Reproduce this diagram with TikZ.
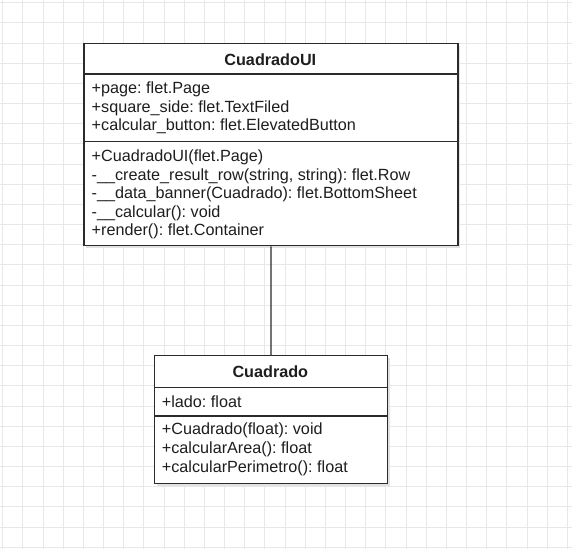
\documentclass[tikz,border=0pt]{standalone}
\usepackage{fontspec}
\setmainfont{Liberation Sans}
\frenchspacing
\begin{document}
\begin{tikzpicture}[x=1pt,y=-1pt,
  gridline/.style={draw=gridgray,line width=1pt},
  umlbox/.style={draw=boxline,line width=1.3pt,fill=white,inner sep=0pt,anchor=north west},
  shadowbox/.style={fill=shadowgray,draw=none},
  sepline/.style={draw=boxline,line width=1.3pt},
  title/.style={font=\fontsize{16.2}{18.5}\selectfont\bfseries,text=txt,inner sep=0pt},
  member/.style={font=\fontsize{16.2}{18.5}\selectfont,text=txt,inner sep=0pt,anchor=mid west},
  assoc/.style={draw=boxline,line width=1.3pt}]
\definecolor{gridgray}{HTML}{E8E8E8}
\definecolor{shadowgray}{HTML}{E2E2E2}
\definecolor{boxline}{HTML}{2B2B2B}
\definecolor{txt}{HTML}{1E1E1E}
\useasboundingbox (0,0) rectangle (572,549);
\fill[white] (0,0) rectangle (572,549);
\foreach \k in {0,...,28} {\draw[gridline] ({2.7+20.17*\k},0) -- ({2.7+20.17*\k},549);}
\foreach \k in {0,...,27} {\draw[gridline] (0,{2.7+20.17*\k}) -- (572,{2.7+20.17*\k});}
% shadows
\fill[shadowbox] (86.3,46) rectangle (460.3,248);
\fill[shadowbox] (157,358) rectangle (389.7,485.7);
% CuadradoUI
\node[umlbox,minimum width=374pt,minimum height=202pt] (ui) at (83.3,43) {};
\draw[sepline] (ui.west |- 0,74) -- (ui.east |- 0,74);
\draw[sepline] (ui.west |- 0,141.7) -- (ui.east |- 0,141.7);
\node[title] (uititle) at (270.3,60) {CuadradoUI};
\node[member] (ua1) at (91.5,91) {+page: flet.Page};
\node[member] (ua2) at (91.5,109.5) {+square\_side: flet.TextFiled};
\node[member] (ua3) at (91.5,128.2) {+calcular\_button: flet.ElevatedButton};
\node[member] (um1) at (91.5,159) {+CuadradoUI(flet.Page)};
\node[member] (um2) at (91.5,177.5) {-\_\_create\_result\_row(string, string): flet.Row};
\node[member] (um3) at (91.5,196) {-\_\_data\_banner(Cuadrado): flet.BottomSheet};
\node[member] (um4) at (91.5,214.5) {-\_\_calcular(): void};
\node[member] (um5) at (91.5,233) {+render(): flet.Container};
% Cuadrado
\node[umlbox,minimum width=232.7pt,minimum height=127.7pt] (cu) at (154,355) {};
\draw[sepline] (cu.west |- 0,387.3) -- (cu.east |- 0,387.3);
\draw[sepline] (cu.west |- 0,416) -- (cu.east |- 0,416);
\node[title] (cutitle) at (270.3,372.2) {Cuadrado};
\node[member] (ca1) at (161.7,404.5) {+lado: float};
\node[member] (cm1) at (161.7,432.3) {+Cuadrado(float): void};
\node[member] (cm2) at (161.7,451) {+calcularArea(): float};
\node[member] (cm3) at (161.7,470.2) {+calcularPerimetro(): float};
% association
\draw[assoc] (ui.south) -- (cu.north);
\end{tikzpicture}
\end{document}
